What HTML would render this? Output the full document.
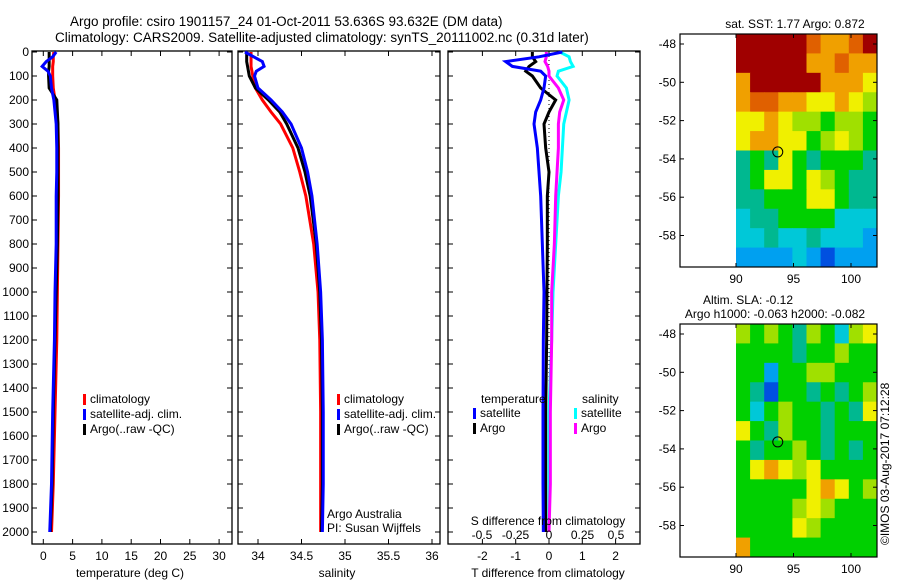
<!DOCTYPE html>
<html><head><meta charset="utf-8"><style>
html,body{margin:0;padding:0;background:#fff;}
svg{display:block;font-family:"Liberation Sans",sans-serif;}
text{font-size:12px;fill:#000;}
</style></head><body>
<svg id="fig" width="900" height="580" xmlns="http://www.w3.org/2000/svg">
<text x="70" y="26" style="font-size:13.5px">Argo profile: csiro 1901157_24 01-Oct-2011 53.636S 93.632E (DM data)</text>
<text x="55" y="42" style="font-size:13.5px">Climatology: CARS2009. Satellite-adjusted climatology: synTS_20111002.nc (0.31d later)</text>
<g id="p1"></g>
<g id="p2"></g>
<g id="p3"></g>
<g id="m1"></g>
<g id="m2"></g>
<text transform="translate(889,545) rotate(-90)" style="font-size:12px">©IMOS 03-Aug-2017 07:12:28</text>
</svg>
<script>
const depths=[0,20,40,60,80,100,150,200,250,300,400,500,600,800,1000,1200,1500,1800,2000];
const climT=[1.8,1.7,1.7,1.6,1.6,1.6,1.7,2.0,2.3,2.5,2.6,2.6,2.6,2.5,2.4,2.3,2.0,1.7,1.4];
const satT=[2.2,1.6,0.5,-0.2,0.8,1.2,1.4,1.8,2.0,2.2,2.3,2.3,2.2,2.2,2.0,1.9,1.6,1.4,1.1];
const argoT=[1.0,1.0,1.0,1.0,0.9,0.9,1.0,2.3,2.4,2.5,2.5,2.5,2.5,2.4,2.2,2.0,1.7,1.5,1.2];
const climS=[33.92,33.92,33.92,33.92,33.93,33.94,33.97,34.05,34.15,34.26,34.4,34.48,34.55,34.64,34.69,34.71,34.72,34.72,34.72];
const satS=[33.85,33.95,34.05,34.07,33.98,33.96,34.0,34.15,34.28,34.38,34.5,34.57,34.62,34.68,34.72,34.74,34.75,34.75,34.74];
const argoS=[33.87,33.87,33.87,33.88,33.89,33.9,33.97,34.12,34.25,34.33,34.46,34.54,34.6,34.67,34.71,34.73,34.74,34.74,34.73];
const dSatT=[0.4,-0.3,-1.3,-1.1,-0.25,-0.1,-0.15,-0.25,-0.4,-0.45,-0.35,-0.3,-0.25,-0.2,-0.15,-0.17,-0.18,-0.18,-0.17];
const dArgoT=[-0.5,-0.5,-0.4,-0.6,-0.7,-0.5,-0.25,0.2,0.0,-0.15,-0.1,0.0,-0.05,-0.05,-0.06,-0.07,-0.1,-0.1,-0.1];
const dArgoS=[-0.02,-0.02,-0.03,-0.01,0.0,0.0,0.07,0.11,0.08,0.07,0.07,0.06,0.05,0.04,0.02,0.02,0.01,0.01,0.0];
const dSatS=[0.08,0.15,0.16,0.18,0.07,0.06,0.13,0.15,0.13,0.11,0.1,0.09,0.07,0.05,0.03,0.02,0.0,0.0,0.0];
const tTicks=[0,5,10,15,20,25,30];
const sTicks=[34,34.5,35,35.5,36];
const dTTicks=[-2,-1,0,1,2];
const dSTicks=[-0.5,-0.25,0,0.25,0.5];
const depthTicks=[0,100,200,300,400,500,600,700,800,900,1000,1100,1200,1300,1400,1500,1600,1700,1800,1900,2000];
const sstGrid=[
[9,9,9,9,9,8,7,7,8,9],[9,9,9,9,9,7,7,8,7,7],[7,9,9,9,9,9,7,7,7,6],[7,8,8,7,7,6,6,7,6,5],
[6,6,7,6,5,5,4,5,5,4],[6,7,7,6,6,4,5,6,5,4],[3,4,3,6,4,3,4,4,4,3],[3,4,6,6,4,6,5,4,3,3],
[3,3,4,4,4,6,6,4,3,3],[2,3,3,4,4,4,4,2,2,2],[2,2,3,2,2,3,2,2,2,1],[1,1,1,1,2,1,0,1,1,1]];
const slaGrid=[
[5,4,5,4,3,5,4,2,5,6],[4,4,4,4,3,4,4,5,4,4],[4,4,1,4,4,5,5,4,4,4],[4,3,0,4,4,3,4,3,4,5],
[4,2,4,5,4,4,3,4,3,6],[6,4,3,5,4,4,3,4,4,4],[4,3,4,4,5,4,3,4,3,4],[4,6,7,6,5,6,4,4,4,4],
[4,4,4,4,4,6,7,6,4,5],[4,4,4,4,5,6,5,4,4,4],[4,4,4,4,6,5,4,4,4,4],[7,4,4,4,4,4,4,4,4,4]];
const latTicks=[-48,-50,-52,-54,-56,-58];
const lonTicks=[90,95,100];
const argoLon=93.632, argoLat=-53.636;

const NS='http://www.w3.org/2000/svg';
function mk(p,tag,a,txt){const e=document.createElementNS(NS,tag);for(const k in a)e.setAttribute(k,a[k]);if(txt!==undefined)e.textContent=txt;p.appendChild(e);return e;}
const yD=d=>52+d*0.24;
function frame(g,x0,x1){
  const r=mk(g,'rect',{x:x0,y:51,width:x1-x0,height:493,fill:'none',stroke:'#000','stroke-width':1.3});
  
  
}
function line(g,xs,xf,color,name,w){
  let pts=[];
  for(let i=0;i<depths.length;i++){pts.push(xf(xs[i])+','+yD(depths[i]));}
  const p=mk(g,'polyline',{points:pts.join(' '),fill:'none',stroke:color,'stroke-width':w||3});
  
  
}
function xticks(g,ticks,xf,y,labels){
  ticks.forEach((t,i)=>{
    const x=xf(t);
    mk(g,'line',{x1:x,x2:x,y1:544,y2:539,stroke:'#000'});
    mk(g,'line',{x1:x,x2:x,y1:51,y2:56,stroke:'#000'});
    const tx=mk(g,'text',{x:x,y:y,'text-anchor':'middle'},labels?labels[i]:String(t));
    
    
  });
}
function legend(g,x,y,items){
  items.forEach((it,i)=>{
    mk(g,'rect',{x:x,y:y+i*15-9,width:3,height:11,fill:it[1]});
    const t=mk(g,'text',{x:x+7,y:y+i*15},it[0]);
    
    
  });
}
// Panel 1
const p1=document.getElementById('p1');
const xT=t=>43.3+t*5.86;
frame(p1,32,232);
depthTicks.forEach(d=>{
  mk(p1,'line',{x1:32,x2:37,y1:yD(d),y2:yD(d),stroke:'#000'});
  mk(p1,'line',{x1:232,x2:227,y1:yD(d),y2:yD(d),stroke:'#000'});
  const t=mk(p1,'text',{x:29,y:yD(d)+4,'text-anchor':'end'},String(d));
  
  
});
xticks(p1,tTicks,xT,560);
const xl1=mk(p1,'text',{x:130,y:577,'text-anchor':'middle'},'temperature (deg C)');


line(p1,climT,xT,'#ff0000','climatology-temperature-line');
line(p1,argoT,xT,'#000','argo-temperature-line');
line(p1,satT,xT,'#0000ff','satellite-temperature-line');
legend(p1,83,403,[['climatology','#ff0000'],['satellite-adj. clim.','#0000ff'],['Argo(..raw -QC)','#000']]);
// Panel 2
const p2=document.getElementById('p2');
const xS=s=>258+(s-34)*87;
frame(p2,238,440);
depthTicks.forEach(d=>{
  mk(p2,'line',{x1:238,x2:243,y1:yD(d),y2:yD(d),stroke:'#000'});
  mk(p2,'line',{x1:440,x2:435,y1:yD(d),y2:yD(d),stroke:'#000'});
});
xticks(p2,sTicks,xS,560);
const xl2=mk(p2,'text',{x:337,y:577,'text-anchor':'middle'},'salinity');


line(p2,climS,xS,'#ff0000','climatology-salinity-line');
line(p2,argoS,xS,'#000','argo-salinity-line');
line(p2,satS,xS,'#0000ff','satellite-salinity-line');
legend(p2,337,403,[['climatology','#ff0000'],['satellite-adj. clim.','#0000ff'],['Argo(..raw -QC)','#000']]);
mk(p2,'text',{x:327,y:518},'Argo Australia');
mk(p2,'text',{x:327,y:532},'PI: Susan Wijffels');
// Panel 3
const p3=document.getElementById('p3');
const xDT=t=>549+t*33.3;
const xDS=s=>549+s*134;
frame(p3,448,640);
depthTicks.forEach(d=>{
  mk(p3,'line',{x1:448,x2:453,y1:yD(d),y2:yD(d),stroke:'#000'});
  mk(p3,'line',{x1:640,x2:635,y1:yD(d),y2:yD(d),stroke:'#000'});
});
xticks(p3,dTTicks,xDT,560);
mk(p3,'line',{x1:549,x2:549,y1:52,y2:532,stroke:'#000','stroke-dasharray':'1,3'});
line(p3,dSatS,xDS,'#00ffff','satellite-salinity-diff-line');
line(p3,dArgoS,xDS,'#ff00ff','argo-salinity-diff-line');
line(p3,dArgoT,xDT,'#000','argo-temperature-diff-line');
line(p3,dSatT,xDT,'#0000ff','satellite-temperature-diff-line');
dSTicks.forEach(s=>{
  const t=mk(p3,'text',{x:xDS(s),y:539,'text-anchor':'middle'},s===0?'0':String(s).replace('0.','.').replace('-.','-0.').replace(/^\./,'0.'));
  
  
});
mk(p3,'text',{x:548,y:525,'text-anchor':'middle'},'S difference from climatology');
const xl3=mk(p3,'text',{x:548,y:577,'text-anchor':'middle'},'T difference from climatology');


mk(p3,'text',{x:481,y:403},'temperature');
mk(p3,'text',{x:582,y:403},'salinity');
legend(p3,473,417,[['satellite','#0000ff'],['Argo','#000']]);
legend(p3,574,417,[['satellite','#00ffff'],['Argo','#ff00ff']]);
// Maps
const cmap=['#0050e0','#00a0f0','#00c8d8','#00b890','#00d000','#a0e000','#f0f000','#f0a000','#e06000','#a00000'];
function drawMap(g,grid,top,name,titles){
  const x0=680,x1=877,y1=top+233;
  const xL=l=>736+(l-90)*11.5;
  const yL=l=>top+10+(-48-l)*19.15;
  const rows=grid.length,cols=grid[0].length;
  const cw=(x1-736)/cols,ch=(y1-top)/rows;
  grid.forEach((row,r)=>row.forEach((v,c)=>{
    const cell=mk(g,'rect',{x:736+c*cw,y:top+r*ch,width:cw+0.5,height:ch+0.5,fill:cmap[v]});
    
    
  }));
  mk(g,'rect',{x:x0,y:top,width:x1-x0,height:y1-top,fill:'none',stroke:'#000','stroke-width':1.2});
  latTicks.forEach(l=>{
    mk(g,'line',{x1:x0,x2:x0+4,y1:yL(l),y2:yL(l),stroke:'#000'});
    mk(g,'line',{x1:x1,x2:x1-4,y1:yL(l),y2:yL(l),stroke:'#000'});
    const t=mk(g,'text',{x:x0-4,y:yL(l)+4,'text-anchor':'end'},String(l));
    
    
  });
  lonTicks.forEach(l=>{
    mk(g,'line',{x1:xL(l),x2:xL(l),y1:y1,y2:y1-4,stroke:'#000'});
    mk(g,'line',{x1:xL(l),x2:xL(l),y1:top,y2:top+4,stroke:'#000'});
    const t=mk(g,'text',{x:xL(l),y:y1+16,'text-anchor':'middle'},String(l));
    
    
  });
  const c=mk(g,'circle',{cx:xL(argoLon),cy:yL(argoLat),r:5,fill:'none',stroke:'#000','stroke-width':1});
  
  
  titles.forEach((tt,i)=>{
    const t=mk(g,'text',{x:tt[1],y:top-6-(titles.length-1-i)*14,'text-anchor':'middle'},tt[0]);
    
    
  });
}
drawMap(document.getElementById('m1'),sstGrid,34,'sst',[['sat. SST: 1.77 Argo: 0.872',795]]);
drawMap(document.getElementById('m2'),slaGrid,324,'sla',[['Altim. SLA: -0.12',748],['Argo h1000: -0.063 h2000: -0.082',775]]);
</script>
</body></html>
